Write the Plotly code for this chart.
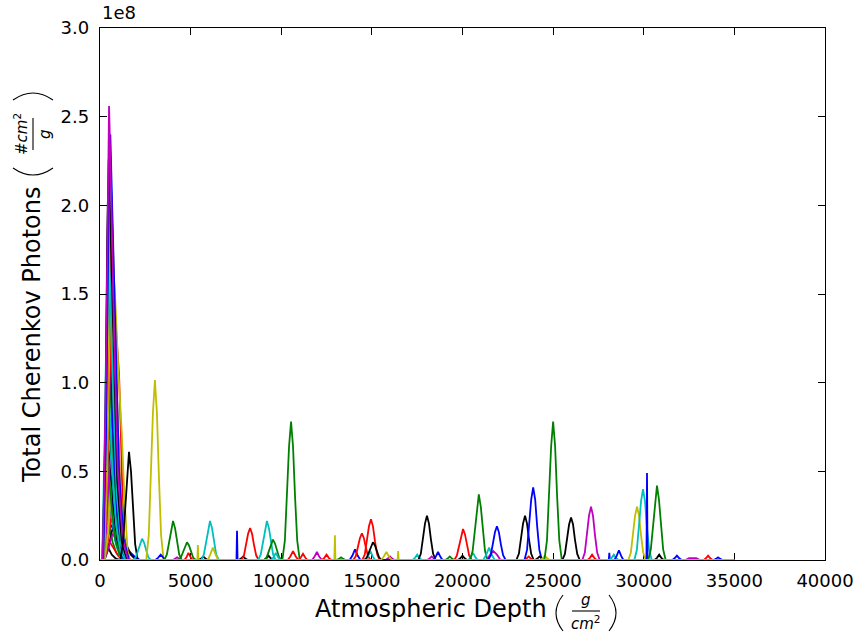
import plotly.graph_objects as go

# Classic matplotlib colour cycle
COLORS = {"b": "#0000ff", "g": "#008000", "r": "#ff0000", "c": "#00bfbf",
          "m": "#bf00bf", "y": "#bfbf00", "k": "#000000"}

# every profile is tabulated over the same depth span
DEPTH_START = 0
DEPTH_END = 35000

x_ticks = [0, 5000, 10000, 15000, 20000, 25000, 30000, 35000, 40000]
y_ticks = [0.0, 0.5, 1.0, 1.5, 2.0, 2.5, 3.0]

# --- showers starting high in the atmosphere (depth g/cm^2, photons in 1e8 #cm^2/g) ---
sh_b5 = ("b", [150, 300, 500, 700, 1000, 1300, 1600, 1900, 2200], [0, 0.08, 0.17, 0.20, 0.15, 0.09, 0.05, 0.02, 0])
sh_g4 = ("g", [130, 260, 360, 450, 560, 700, 900, 1150, 1400], [0, 0.08, 0.17, 0.22, 0.17, 0.10, 0.04, 0.01, 0])
sh_k4 = ("k", [110, 230, 330, 400, 500, 650, 850, 1100], [0, 0.03, 0.06, 0.08, 0.06, 0.03, 0.01, 0])
sh_r4 = ("r", [150, 300, 440, 550, 670, 830, 1030, 1300], [0, 0.03, 0.08, 0.10, 0.08, 0.05, 0.02, 0])
sh_k5 = ("k", [250, 450, 650, 900, 1150, 1400, 1700, 2000], [0, 0.06, 0.16, 0.25, 0.19, 0.10, 0.03, 0])
sh_m3 = ("m", [200, 380, 560, 700, 850, 1020, 1250, 1500], [0, 0.04, 0.11, 0.15, 0.12, 0.07, 0.02, 0])
sh_r5 = ("r", [220, 400, 570, 700, 850, 1020, 1240, 1500], [0, 0.08, 0.22, 0.30, 0.24, 0.14, 0.05, 0])
sh_b4 = ("b", [140, 280, 390, 480, 600, 760, 960, 1200, 1500], [0, 0.11, 0.26, 0.34, 0.27, 0.16, 0.07, 0.02, 0])
sh_m5 = ("m", [200, 370, 530, 650, 780, 950, 1160, 1420], [0, 0.10, 0.27, 0.35, 0.28, 0.16, 0.06, 0])
sh_y4 = ("y", [180, 350, 490, 600, 730, 900, 1110, 1380], [0, 0.13, 0.35, 0.45, 0.36, 0.21, 0.08, 0])
sh_c4 = ("c", [110, 240, 330, 400, 510, 670, 870, 1110, 1380], [0, 0.18, 0.40, 0.50, 0.39, 0.23, 0.09, 0.02, 0])
sh_b3 = ("b", [150, 300, 410, 500, 620, 780, 980, 1230, 1500], [0, 0.17, 0.41, 0.52, 0.41, 0.25, 0.10, 0.03, 0])
sh_y5 = ("y", [260, 450, 640, 800, 950, 1120, 1330, 1600], [0, 0.15, 0.45, 0.60, 0.48, 0.28, 0.10, 0])
sh_g3 = ("g", [100, 220, 310, 380, 490, 650, 850, 1090, 1350], [0, 0.22, 0.50, 0.62, 0.49, 0.29, 0.11, 0.03, 0])
sh_k3 = ("k", [140, 280, 390, 470, 590, 750, 950, 1190, 1460], [0, 0.22, 0.51, 0.64, 0.51, 0.31, 0.12, 0.03, 0])
sh_m2 = ("m", [180, 340, 480, 600, 720, 880, 1080, 1330, 1600], [0, 0.17, 0.46, 0.60, 0.49, 0.30, 0.12, 0.03, 0])
sh_c5 = ("c", [150, 290, 410, 500, 620, 780, 990, 1250], [0, 0.24, 0.56, 0.70, 0.56, 0.33, 0.12, 0])
sh_k2 = ("k", [150, 300, 410, 500, 620, 780, 980, 1230, 1500], [0, 0.27, 0.64, 0.81, 0.64, 0.39, 0.16, 0.04, 0])
sh_g5 = ("g", [120, 250, 360, 450, 570, 730, 940, 1200], [0, 0.30, 0.72, 0.90, 0.71, 0.42, 0.15, 0])
sh_y3 = ("y", [170, 330, 450, 550, 670, 830, 1030, 1280, 1560], [0, 0.30, 0.76, 1.00, 0.80, 0.49, 0.20, 0.05, 0])
sh_b6 = ("b", [170, 320, 450, 550, 670, 830, 1040, 1300], [0, 0.30, 0.77, 1.00, 0.80, 0.48, 0.17, 0])
sh_g2 = ("g", [150, 300, 410, 500, 620, 780, 980, 1230, 1500], [0, 0.37, 0.85, 1.07, 0.84, 0.51, 0.21, 0.05, 0])
sh_c3 = ("c", [120, 250, 350, 420, 530, 690, 890, 1130, 1400], [0, 0.42, 0.88, 1.09, 0.85, 0.50, 0.20, 0.05, 0])
sh_m4 = ("m", [180, 330, 460, 560, 680, 840, 1040, 1290, 1570], [0, 0.36, 0.92, 1.20, 0.96, 0.59, 0.24, 0.06, 0])
sh_b2 = ("b", [150, 300, 400, 480, 600, 760, 960, 1200, 1480], [0, 0.45, 1.05, 1.30, 1.02, 0.62, 0.25, 0.06, 0])
sh_r2 = ("r", [200, 380, 560, 700, 880, 1050, 1100, 1150, 1250, 1350, 1450], [0, 0.40, 1.10, 1.45, 1.30, 1.05, 0.92, 0.72, 0.32, 0.06, 0])
sh_g1 = ("g", [170, 320, 430, 520, 640, 800, 1000, 1250, 1520], [0, 0.55, 1.20, 1.50, 1.20, 0.72, 0.30, 0.07, 0])
sh_r3 = ("r", [200, 360, 530, 650, 780, 940, 1140, 1390, 1660], [0, 0.45, 1.25, 1.67, 1.38, 0.86, 0.36, 0.08, 0])
sh_y2 = ("y", [220, 380, 540, 680, 850, 1020, 1200, 1350, 1550], [0, 0.45, 1.30, 1.75, 1.45, 1.05, 0.72, 0.35, 0])
sh_r1 = ("r", [180, 340, 480, 600, 720, 880, 1080, 1330, 1600], [0, 0.50, 1.35, 1.80, 1.50, 0.95, 0.40, 0.09, 0])
sh_c2 = ("c", [120, 260, 370, 450, 560, 720, 920, 1170, 1450], [0, 0.70, 1.55, 1.96, 1.55, 0.95, 0.38, 0.08, 0])
sh_y1 = ("y", [200, 360, 500, 620, 740, 900, 1100, 1350, 1650], [0, 0.60, 1.60, 2.07, 1.70, 1.05, 0.45, 0.10, 0])
sh_k1 = ("k", [150, 300, 400, 480, 600, 750, 950, 1200, 1500], [0, 0.75, 1.85, 2.26, 1.80, 1.10, 0.45, 0.10, 0])
sh_c1 = ("c", [160, 320, 450, 550, 670, 830, 1030, 1280, 1580], [0, 0.70, 1.80, 2.34, 1.90, 1.15, 0.48, 0.10, 0])
sh_b1 = ("b", [180, 330, 460, 570, 690, 850, 1050, 1300, 1600], [0, 0.70, 1.85, 2.40, 1.95, 1.20, 0.50, 0.12, 0])
sh_m1 = ("m", [150, 300, 420, 500, 620, 780, 980, 1250, 1550], [0, 0.85, 2.10, 2.56, 2.05, 1.25, 0.50, 0.12, 0])

# --- deeper, isolated showers ---
sh_k1600 = ("k", [1120, 1260, 1380, 1490, 1600, 1710, 1820, 1940, 2080], [0, 0.09, 0.28, 0.50, 0.61, 0.50, 0.28, 0.09, 0])
sh_c2320 = ("c", [1840, 1980, 2100, 2210, 2320, 2430, 2540, 2660, 2800], [0, 0.017, 0.055, 0.098, 0.12, 0.098, 0.055, 0.017, 0])
sh_y3030 = ("y", [2550, 2690, 2810, 2920, 3030, 3140, 3250, 3370, 3510], [0, 0.14, 0.47, 0.83, 1.015, 0.83, 0.47, 0.14, 0])
sh_b3350 = ("b", [3050, 3200, 3350, 3500, 3650], [0, 0.012, 0.03, 0.012, 0])
sh_g4030 = ("g", [3550, 3690, 3810, 3920, 4030, 4140, 4250, 4370, 4510], [0, 0.031, 0.10, 0.18, 0.22, 0.18, 0.10, 0.031, 0])
sh_m4250 = ("m", [4000, 4120, 4250, 4380, 4500], [0, 0.006, 0.015, 0.006, 0])
sh_g4800 = ("g", [4320, 4460, 4580, 4690, 4800, 4910, 5020, 5140, 5280], [0, 0.014, 0.046, 0.082, 0.10, 0.082, 0.046, 0.014, 0])
sh_r4900 = ("r", [4650, 4770, 4880, 5000, 5120], [0, 0.015, 0.04, 0.015, 0])
sh_y5400 = ("y", [5370, 5400, 5430], [0, 0.085, 0])
sh_k5700 = ("k", [5450, 5580, 5700, 5820, 5950], [0, 0.008, 0.02, 0.008, 0])
sh_c6070 = ("c", [5590, 5730, 5850, 5960, 6070, 6180, 6290, 6410, 6550], [0, 0.031, 0.10, 0.18, 0.22, 0.18, 0.10, 0.031, 0])
sh_y6230 = ("y", [5950, 6080, 6230, 6380, 6520], [0, 0.03, 0.07, 0.03, 0])
sh_b7560 = ("b", [7530, 7560, 7590], [0, 0.165, 0])
sh_k7900 = ("k", [7650, 7780, 7900, 8020, 8150], [0, 0.008, 0.02, 0.008, 0])
sh_r8280 = ("r", [7800, 7940, 8060, 8170, 8280, 8390, 8500, 8620, 8760], [0, 0.025, 0.083, 0.148, 0.18, 0.148, 0.083, 0.025, 0])
sh_c9210 = ("c", [8730, 8870, 8990, 9100, 9210, 9320, 9430, 9550, 9690], [0, 0.031, 0.10, 0.18, 0.22, 0.18, 0.10, 0.031, 0])
sh_k9300 = ("k", [9050, 9180, 9300, 9420, 9550], [0, 0.01, 0.025, 0.01, 0])
sh_g9540 = ("g", [9060, 9200, 9320, 9430, 9540, 9650, 9760, 9880, 10020], [0, 0.016, 0.053, 0.094, 0.115, 0.094, 0.053, 0.016, 0])
sh_c9700 = ("c", [9450, 9580, 9700, 9820, 9950], [0, 0.016, 0.04, 0.016, 0])
sh_g10540 = ("g", [10060, 10200, 10320, 10430, 10540, 10650, 10760, 10880, 11020], [0, 0.11, 0.36, 0.64, 0.78, 0.64, 0.36, 0.11, 0])
sh_r10650 = ("r", [10350, 10500, 10650, 10800, 10950], [0, 0.02, 0.05, 0.02, 0])
sh_r11200 = ("r", [10950, 11080, 11200, 11320, 11450], [0, 0.014, 0.035, 0.014, 0])
sh_m11970 = ("m", [11700, 11830, 11970, 12100, 12250], [0, 0.018, 0.045, 0.018, 0])
sh_r12500 = ("r", [12250, 12380, 12500, 12620, 12750], [0, 0.012, 0.03, 0.012, 0])
sh_y12960 = ("y", [12930, 12960, 12990], [0, 0.14, 0])
sh_g13300 = ("g", [13050, 13180, 13300, 13420, 13550], [0, 0.006, 0.015, 0.006, 0])
sh_b14070 = ("b", [13770, 13920, 14070, 14220, 14370], [0, 0.024, 0.06, 0.024, 0])
sh_r14450 = ("r", [13970, 14110, 14230, 14340, 14450, 14560, 14670, 14790, 14930], [0, 0.021, 0.069, 0.123, 0.15, 0.123, 0.069, 0.021, 0])
sh_r14950 = ("r", [14470, 14610, 14730, 14840, 14950, 15060, 15170, 15290, 15430], [0, 0.032, 0.106, 0.19, 0.23, 0.19, 0.106, 0.032, 0])
sh_c14920 = ("c", [14650, 14780, 14920, 15050, 15180], [0, 0.02, 0.05, 0.02, 0])
sh_k15060 = ("k", [14580, 14720, 14840, 14950, 15060, 15170, 15280, 15400, 15540], [0, 0.014, 0.046, 0.082, 0.10, 0.082, 0.046, 0.014, 0])
sh_y16450 = ("y", [16420, 16450, 16480], [0, 0.05, 0])
sh_m16000 = ("m", [15750, 15880, 16000, 16120, 16250], [0, 0.008, 0.02, 0.008, 0])
sh_c17500 = ("c", [17250, 17380, 17500, 17620, 17750], [0, 0.012, 0.03, 0.012, 0])
sh_k18040 = ("k", [17560, 17700, 17820, 17930, 18040, 18150, 18260, 18380, 18520], [0, 0.035, 0.115, 0.205, 0.25, 0.205, 0.115, 0.035, 0])
sh_m18300 = ("m", [18050, 18180, 18300, 18420, 18550], [0, 0.008, 0.02, 0.008, 0])
sh_b18650 = ("b", [18400, 18520, 18650, 18780, 18900], [0, 0.018, 0.045, 0.018, 0])
sh_g19300 = ("g", [19050, 19180, 19300, 19420, 19550], [0, 0.008, 0.02, 0.008, 0])
sh_k20000 = ("k", [19750, 19880, 20000, 20120, 20250], [0, 0.01, 0.025, 0.01, 0])
sh_r20030 = ("r", [19550, 19690, 19810, 19920, 20030, 20140, 20250, 20370, 20510], [0, 0.025, 0.08, 0.143, 0.175, 0.143, 0.08, 0.025, 0])
sh_c20580 = ("c", [20330, 20450, 20580, 20710, 20830], [0, 0.016, 0.04, 0.016, 0])
sh_g20900 = ("g", [20420, 20560, 20680, 20790, 20900, 21010, 21120, 21240, 21380], [0, 0.052, 0.17, 0.30, 0.37, 0.30, 0.17, 0.052, 0])
sh_c21470 = ("c", [21150, 21300, 21470, 21620, 21780], [0, 0.028, 0.07, 0.028, 0])
sh_m21700 = ("m", [21350, 21520, 21700, 21900, 22100], [0, 0.03, 0.05, 0.03, 0])
sh_b21900 = ("b", [21420, 21560, 21680, 21790, 21900, 22010, 22120, 22240, 22380], [0, 0.027, 0.087, 0.156, 0.19, 0.156, 0.087, 0.027, 0])
sh_k23450 = ("k", [22970, 23110, 23230, 23340, 23450, 23560, 23670, 23790, 23930], [0, 0.035, 0.115, 0.205, 0.25, 0.205, 0.115, 0.035, 0])
sh_r23650 = ("r", [23400, 23530, 23650, 23770, 23900], [0, 0.008, 0.02, 0.008, 0])
sh_b23900 = ("b", [23420, 23560, 23680, 23790, 23900, 24010, 24120, 24240, 24380], [0, 0.057, 0.19, 0.34, 0.41, 0.34, 0.19, 0.057, 0])
sh_k24250 = ("k", [24000, 24130, 24250, 24370, 24500], [0, 0.008, 0.02, 0.008, 0])
sh_y24550 = ("y", [24300, 24430, 24550, 24670, 24800], [0, 0.01, 0.025, 0.01, 0])
sh_g25000 = ("g", [24520, 24660, 24780, 24890, 25000, 25110, 25220, 25340, 25480], [0, 0.11, 0.36, 0.64, 0.78, 0.64, 0.36, 0.11, 0])
sh_k25990 = ("k", [25510, 25650, 25770, 25880, 25990, 26100, 26210, 26330, 26470], [0, 0.034, 0.11, 0.20, 0.24, 0.20, 0.11, 0.034, 0])
sh_r27150 = ("r", [26900, 27030, 27150, 27270, 27400], [0, 0.012, 0.03, 0.012, 0])
sh_m27090 = ("m", [26610, 26750, 26870, 26980, 27090, 27200, 27310, 27430, 27570], [0, 0.042, 0.14, 0.25, 0.30, 0.25, 0.14, 0.042, 0])
sh_b28100 = ("b", [28070, 28100, 28130], [0, 0.04, 0])
sh_c28350 = ("c", [28100, 28230, 28350, 28470, 28600], [0, 0.012, 0.03, 0.012, 0])
sh_b28630 = ("b", [28380, 28500, 28630, 28760, 28880], [0, 0.022, 0.055, 0.022, 0])
sh_y29630 = ("y", [29150, 29290, 29410, 29520, 29630, 29740, 29850, 29970, 30110], [0, 0.042, 0.14, 0.25, 0.30, 0.25, 0.14, 0.042, 0])
sh_c29960 = ("c", [29480, 29620, 29740, 29850, 29960, 30070, 30180, 30300, 30440], [0, 0.056, 0.18, 0.33, 0.40, 0.33, 0.18, 0.056, 0])
sh_b30180 = ("b", [30150, 30180, 30210], [0, 0.49, 0])
sh_g30730 = ("g", [30250, 30390, 30510, 30620, 30730, 30840, 30950, 31070, 31210], [0, 0.06, 0.19, 0.34, 0.42, 0.34, 0.19, 0.06, 0])
sh_k30850 = ("k", [30600, 30730, 30850, 30970, 31100], [0, 0.012, 0.03, 0.012, 0])
sh_b31830 = ("b", [31580, 31700, 31830, 31960, 32080], [0, 0.01, 0.025, 0.01, 0])
sh_m32700 = ("m", [32300, 32500, 32700, 32900, 33100], [0, 0.01, 0.012, 0.01, 0])
sh_r33550 = ("r", [33300, 33430, 33550, 33670, 33800], [0, 0.01, 0.025, 0.01, 0])
sh_b34100 = ("b", [33850, 33980, 34100, 34220, 34350], [0, 0.006, 0.015, 0.006, 0])
sh_y15800 = ("y", [15500, 15650, 15800, 15950, 16100], [0, 0.018, 0.045, 0.018, 0])

showers = [
    sh_b5, sh_g4, sh_k4, sh_r4, sh_k5, sh_m3, sh_r5, sh_b4, sh_m5, sh_y4, sh_c4, sh_b3,
    sh_y5, sh_g3, sh_k3, sh_m2, sh_c5, sh_k2, sh_g5, sh_y3, sh_b6, sh_g2, sh_c3, sh_m4,
    sh_b2, sh_r2, sh_g1, sh_r3, sh_y2, sh_r1, sh_c2, sh_y1, sh_k1, sh_c1, sh_b1, sh_m1,
    sh_k1600, sh_c2320, sh_y3030, sh_b3350, sh_g4030, sh_m4250, sh_g4800, sh_r4900,
    sh_y5400, sh_k5700, sh_c6070, sh_y6230, sh_b7560, sh_k7900, sh_r8280, sh_c9210,
    sh_k9300, sh_g9540, sh_c9700, sh_g10540, sh_r10650, sh_r11200, sh_m11970, sh_r12500,
    sh_y12960, sh_g13300, sh_b14070, sh_r14450, sh_r14950, sh_c14920, sh_k15060,
    sh_y16450, sh_m16000, sh_c17500, sh_k18040, sh_m18300, sh_b18650, sh_g19300,
    sh_k20000, sh_r20030, sh_c20580, sh_g20900, sh_c21470, sh_m21700, sh_b21900,
    sh_k23450, sh_r23650, sh_b23900, sh_k24250, sh_y24550, sh_g25000, sh_k25990,
    sh_r27150, sh_m27090, sh_b28100, sh_c28350, sh_b28630, sh_y29630, sh_c29960,
    sh_b30180, sh_g30730, sh_k30850, sh_b31830, sh_m32700, sh_r33550, sh_b34100,
    sh_y15800,
]

fig = go.Figure()
for color, depth, photons in showers:
    fig.add_trace(go.Scatter(
        x=[DEPTH_START] + depth + [DEPTH_END],
        y=[0] + photons + [0],
        mode="lines",
        line=dict(color=COLORS[color], width=1.8),
        hoverinfo="skip",
    ))

# plot-area geometry in pixels
L, T, W, H = 100, 28, 725, 532
FIG_W, FIG_H = 861, 634


def px(x):
    return (x - L) / W


def py(y):
    return (T + H - y) / H


FONT = "DejaVu Sans"
annotations = []
shapes = []


def text(x, y, s, size, angle=0, xanchor="center", yanchor="middle"):
    annotations.append(dict(x=px(x), y=py(y), xref="paper", yref="paper", text=s,
                            showarrow=False, textangle=angle, xanchor=xanchor,
                            yanchor=yanchor, font=dict(family=FONT, size=size, color="black")))


def seg(x0, y0, x1, y1):
    shapes.append(dict(type="line", xref="paper", yref="paper",
                       x0=px(x0), y0=py(y0), x1=px(x1), y1=py(y1),
                       line=dict(color="black", width=1.1)))


def arc(x0, y0, cx, cy, x1, y1):
    shapes.append(dict(type="path", xref="paper", yref="paper",
                       path=f"M {px(x0)},{py(y0)} Q {px(cx)},{py(cy)} {px(x1)},{py(y1)}",
                       line=dict(color="black", width=1.1)))


# offset label of the y axis
text(100, 12, "1e8", 18, xanchor="left")

# x axis title with (g / cm^2)
text(431, 609, "Atmospheric Depth", 24)
arc(563, 595, 549, 613, 563, 631)
arc(609, 595, 623, 613, 609, 631)
text(586, 600, "<i>g</i>", 15)
seg(572, 611, 600, 611)
text(586, 623, "<i>cm</i><sup>2</sup>", 15)

# y axis title with (#cm^2 / g)
text(32, 335, "Total Cherenkov Photons", 24, angle=-90)
arc(13, 168, 33, 182, 53, 168)
arc(13, 100, 33, 86, 53, 100)
text(21, 134, "#<i>cm</i><sup>2</sup>", 15, angle=-90)
seg(33, 118, 33, 150)
text(45, 134, "<i>g</i>", 15, angle=-90)

fig.update_layout(
    width=FIG_W, height=FIG_H,
    margin=dict(l=L, r=FIG_W - L - W, t=T, b=FIG_H - T - H, autoexpand=False),
    plot_bgcolor="white", paper_bgcolor="white",
    showlegend=False,
    font=dict(family=FONT, size=18, color="black"),
    annotations=annotations,
    shapes=shapes,
)
axis_style = dict(
    ticks="inside", ticklen=7, tickwidth=1.1, tickcolor="black",
    showline=True, linecolor="black", linewidth=1.3, mirror="ticks",
    showgrid=False, zeroline=False, automargin=False,
    tickfont=dict(family=FONT, size=18, color="black"),
)
fig.update_xaxes(range=[0, 40000], tickvals=x_ticks,
                 ticktext=[str(v) for v in x_ticks], ticklabelstandoff=4,
                 layer="below traces", **axis_style)
fig.update_yaxes(range=[0, 3.0], tickvals=y_ticks,
                 ticktext=[f"{v:.1f}" for v in y_ticks], ticklabelstandoff=6, **axis_style)

fig.write_html("out.html")
